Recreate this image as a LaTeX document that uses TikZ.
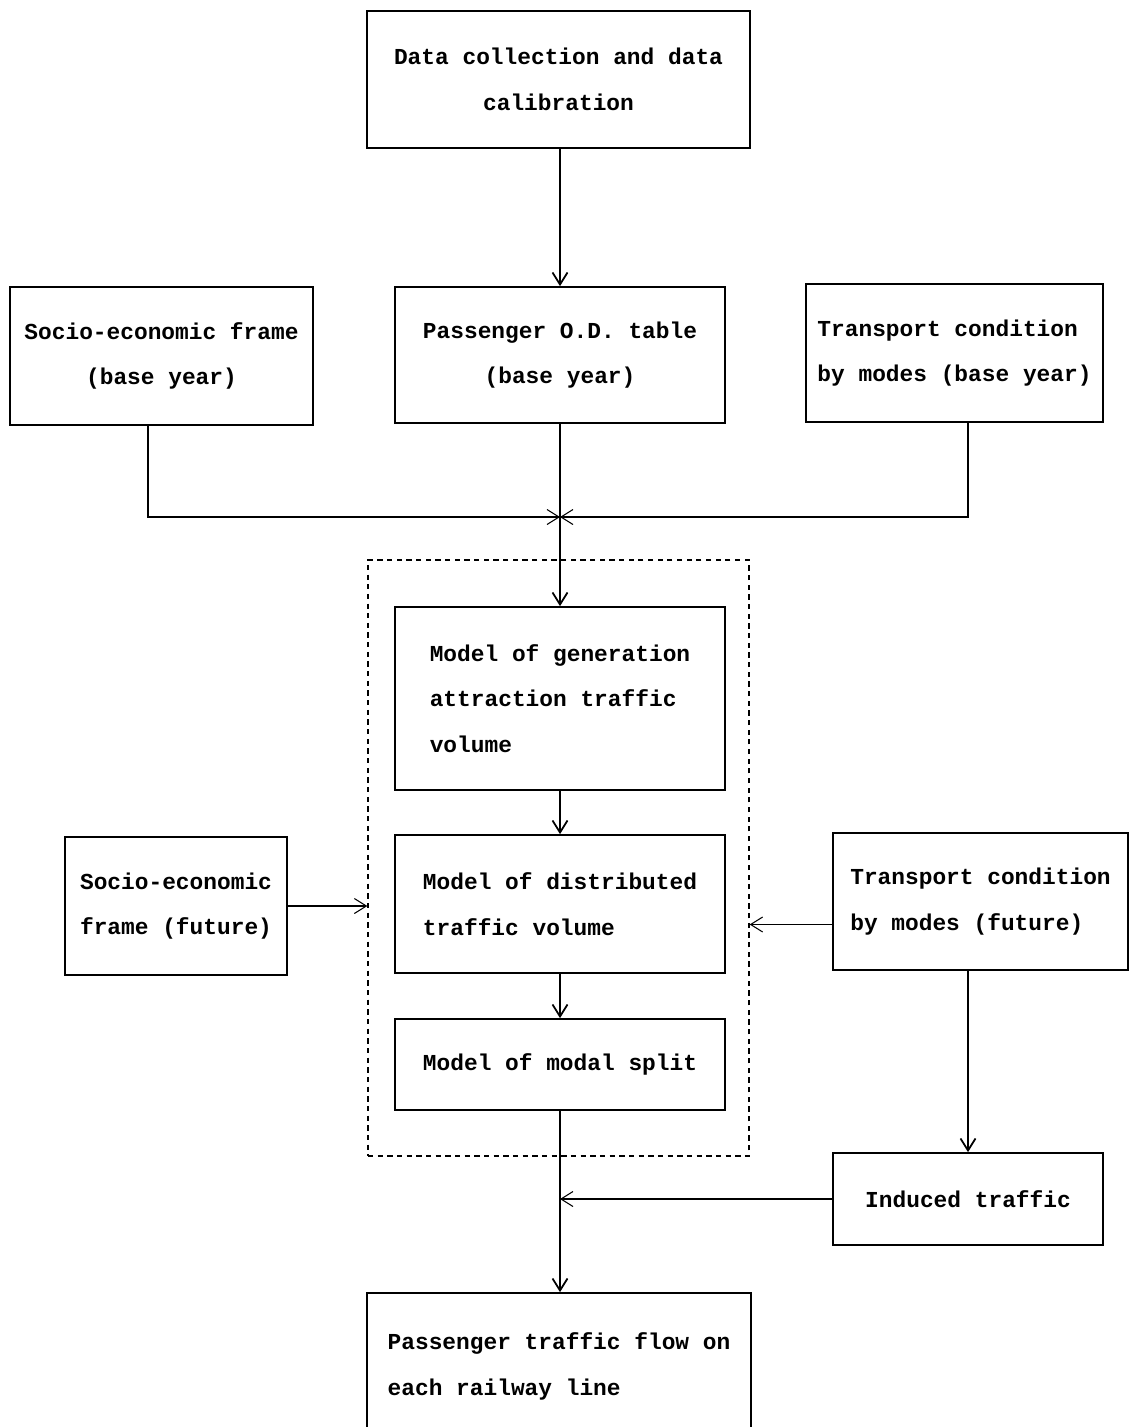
\documentclass[tikz,border=0pt]{standalone}
\usepackage{fontspec}
\setmainfont{Liberation Mono}
\usepackage{tikz}
\usetikzlibrary{arrows.meta}
\tikzset{
  procbox/.style={rectangle, draw=black, line width=1pt, align=center, font=\fontsize{13}{26}\selectfont\bfseries, inner sep=3pt},
  groupbox/.style={rectangle, draw=black, dashed, dash pattern=on 3pt off 2.5pt, line width=0.8pt},
  flowarrow/.style={-{Straight Barb[length=2.4mm,width=3mm]}, line width=1pt, draw=black},
  sidearrow/.style={-{Straight Barb[length=2.4mm,width=3mm]}, line width=0.6pt, draw=black},
}
\begin{document}
\begin{tikzpicture}[x=0.02cm,y=-0.02cm]
  \useasboundingbox (0,0) rectangle (1132,1427);
  \clip (0,0) rectangle (1132,1427);

  \node[procbox, minimum width=7.66cm, minimum height=2.74cm] (data) at (558.5,79.5) {Data collection and data\\calibration};

  \node[procbox, minimum width=6.06cm, minimum height=2.76cm] (sebase) at (161.5,356) {Socio-economic frame\\(base year)};
  \node[procbox, minimum width=6.6cm, minimum height=2.72cm] (odbase) at (560,355) {Passenger O.D. table\\(base year)};
  \node[procbox, align=left, minimum width=5.94cm, minimum height=2.76cm] (tcbase) at (954.5,353) {Transport condition\\by modes (base year)};

  \coordinate (join) at (560,517);

  % --- model group ---
  \node[groupbox, minimum width=7.62cm, minimum height=11.92cm] (modelgrp) at (558.5,858) {};
  \node[procbox, align=left, minimum width=6.6cm, minimum height=3.66cm] (gen) at (560,698.5) {Model of generation\\attraction traffic\\volume};
  \node[procbox, align=left, minimum width=6.6cm, minimum height=2.76cm] (dist) at (560,904) {Model of distributed\\traffic volume};
  \node[procbox, minimum width=6.6cm, minimum height=1.82cm] (modal) at (560,1064.5) {Model of modal split};

  \node[procbox, align=left, minimum width=4.44cm, minimum height=2.76cm] (sefut) at (176,906) {Socio-economic\\frame (future)};
  \node[procbox, align=left, minimum width=5.9cm, minimum height=2.74cm] (tcfut) at (980.5,901.5) {Transport condition\\by modes (future)};
  \node[procbox, minimum width=5.4cm, minimum height=1.84cm] (induced) at (968,1199) {Induced traffic};

  \node[procbox, align=left, minimum width=7.68cm, minimum height=2.94cm] (flow) at (559,1366.5) {Passenger traffic flow on\\each railway line};

  \draw[flowarrow] (data.south -| odbase.north) -- (odbase.north);
  \draw[sidearrow] ([xshift=-0.27cm]sebase.south) |- (join);
  \draw[sidearrow] ([xshift=0.27cm]tcbase.south) |- (join);
  \draw[flowarrow] (odbase.south) -- (gen.north);
  \draw[flowarrow] (gen.south) -- (dist.north);
  \draw[flowarrow] (dist.south) -- (modal.north);
  \draw[sidearrow] (sefut.east) -- (sefut.east -| modelgrp.west);
  \draw[sidearrow] ([yshift=-0.46cm]tcfut.west) -- ([yshift=-0.46cm]tcfut.west -| modelgrp.east);
  \draw[flowarrow] (tcfut.south -| induced.north) -- (induced.north);
  \draw[sidearrow] (induced.west) -- (induced.west -| modal.south);
  \draw[flowarrow] (modal.south) -- (modal.south |- flow.north);
\end{tikzpicture}
\end{document}
